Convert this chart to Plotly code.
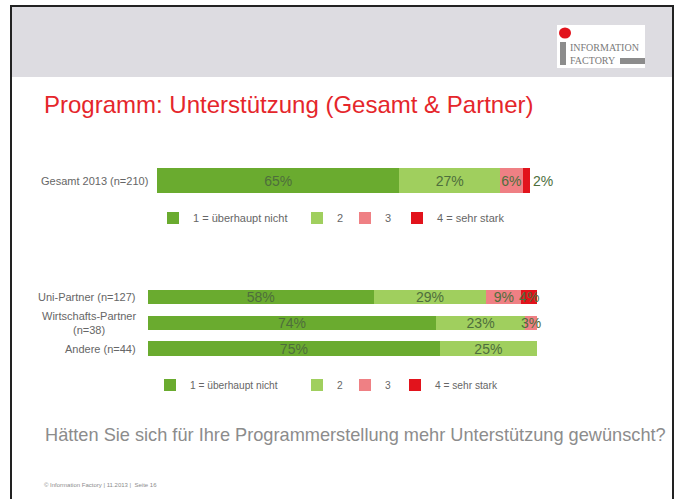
import plotly.graph_objects as go

W, H = 681, 499

def X(px):
    return px / W

def Y(py):
    return 1 - py / H

# ---------------- data ----------------
levels = ["1 = überhaupt nicht", "2", "3", "4 = sehr stark"]
colors = ["#6aab2f", "#a0cf5e", "#ef8084", "#e2131c"]

top_categories = ["Gesamt 2013 (n=210)"]
top_l1 = [65]
top_l2 = [27]
top_l3 = [6]
top_l4 = [2]

group_categories = ["Uni-Partner (n=127)", "Wirtschafts-Partner<br>(n=38)", "Andere (n=44)"]
group_l1 = [58, 74, 75]
group_l2 = [29, 23, 25]
group_l3 = [9, 3, 0]
group_l4 = [4, 0, 0]

title_text = "Programm: Unterstützung (Gesamt & Partner)"
question_text = "Hätten Sie sich für Ihre Programmerstellung mehr Unterstützung gewünscht?"
footer_text = "© Information Factory | 11.2013 |  Seite 16"

FONT = "Liberation Sans, Arial, sans-serif"
LABEL_COLOR = "#4e6e3c"

def pct(vals):
    return [f"{v}%" if v else "" for v in vals]

fig = go.Figure()

top_series = [top_l1, top_l2, top_l3, top_l4]
group_series = [group_l1, group_l2, group_l3, group_l4]

for i, vals in enumerate(top_series):
    fig.add_trace(go.Bar(
        x=vals, y=top_categories, orientation="h", name=levels[i],
        marker=dict(color=colors[i], line=dict(width=0)),
        width=1.0,
        text=pct(vals), textposition="outside" if i == 3 else "inside",
        insidetextanchor="middle",
        constraintext="none", textangle=0,
        textfont=dict(family=FONT, size=14, color=LABEL_COLOR),
        xaxis="x", yaxis="y", showlegend=True,
        legend="legend" if i == 0 else f"legend{i + 1}",
        hoverinfo="skip", cliponaxis=False,
    ))

for i, vals in enumerate(group_series):
    fig.add_trace(go.Bar(
        x=vals, y=group_categories, orientation="h", name=levels[i],
        marker=dict(color=colors[i], line=dict(width=0)),
        width=0.55,
        text=pct(vals), textposition="inside", insidetextanchor="middle",
        constraintext="none", textangle=0,
        textfont=dict(family=FONT, size=14, color=LABEL_COLOR),
        xaxis="x2", yaxis="y2", showlegend=True,
        legend=f"legend{i + 5}",
        hoverinfo="skip", cliponaxis=False,
    ))

hidden = dict(visible=False, showgrid=False, zeroline=False, fixedrange=True)

layout = dict(
    width=W, height=H,
    margin=dict(l=0, r=0, t=0, b=0),
    paper_bgcolor="white", plot_bgcolor="rgba(0,0,0,0)",
    barmode="stack", showlegend=True,
    font=dict(family=FONT, color="#666666"),
    xaxis=dict(domain=[X(157), X(530)], range=[0, 100], anchor="y", **hidden),
    yaxis=dict(domain=[Y(193), Y(168)], range=[-0.5, 0.5], anchor="x",
               type="category", **hidden),
    xaxis2=dict(domain=[X(148), X(537)], range=[0, 100], anchor="y2", **hidden),
    yaxis2=dict(domain=[Y(361.5), Y(284)], range=[2.5, -0.5], anchor="x2",
                type="category", categoryorder="array",
                categoryarray=group_categories, **hidden),
)

# legends (one item each, positioned like the original)
top_text_x = [193, 337, 385, 437]
low_text_x = [190, 337, 385, 435]
for i in range(4):
    key = "legend" if i == 0 else f"legend{i + 1}"
    layout[key] = dict(x=X(top_text_x[i] - 40), y=Y(218), xanchor="left", yanchor="middle",
                       orientation="h", bgcolor="rgba(0,0,0,0)", borderwidth=0, visible=True,
                       font=dict(family=FONT, size=11, color="#666666"), itemwidth=30)
    layout[f"legend{i + 5}"] = dict(x=X(low_text_x[i] - 40), y=Y(385), xanchor="left", yanchor="middle",
                                    orientation="h", bgcolor="rgba(0,0,0,0)", borderwidth=0, visible=True,
                                    font=dict(family=FONT, size=10.2, color="#666666"), itemwidth=30)

fig.update_layout(**layout)

shapes = [
    # header band
    dict(type="rect", xref="paper", yref="paper", x0=X(11), x1=X(672), y0=Y(77), y1=Y(7),
         fillcolor="#dddce1", line=dict(width=0), layer="below"),
    # frame
    dict(type="line", xref="paper", yref="paper", x0=X(10), x1=X(674), y0=Y(6), y1=Y(6),
         line=dict(color="#222222", width=2)),
    dict(type="line", xref="paper", yref="paper", x0=X(11), x1=X(11), y0=Y(5), y1=Y(499),
         line=dict(color="#222222", width=2)),
    dict(type="line", xref="paper", yref="paper", x0=X(673), x1=X(673), y0=Y(5), y1=Y(499),
         line=dict(color="#222222", width=2)),
    # logo
    dict(type="rect", xref="paper", yref="paper", x0=X(557), x1=X(645), y0=Y(68), y1=Y(25),
         fillcolor="white", line=dict(width=0)),
    dict(type="circle", xref="paper", yref="paper", x0=X(559), x1=X(571), y0=Y(38.5), y1=Y(27.5),
         fillcolor="#e2131c", line=dict(width=0)),
    dict(type="rect", xref="paper", yref="paper", x0=X(560), x1=X(566), y0=Y(65), y1=Y(42),
         fillcolor="#8c8c8c", line=dict(width=0)),
    dict(type="rect", xref="paper", yref="paper", x0=X(620), x1=X(645), y0=Y(64), y1=Y(58),
         fillcolor="#8c8c8c", line=dict(width=0)),
]
fig.update_layout(shapes=shapes)

annotations = [
    dict(text=title_text, xref="paper", yref="paper", x=X(42), y=Y(104), xanchor="left",
         yanchor="middle", showarrow=False, font=dict(family=FONT, size=24, color="#e5262b")),
    dict(text=question_text, xref="paper", yref="paper", x=X(43), y=Y(435), xanchor="left",
         yanchor="middle", showarrow=False, font=dict(family=FONT, size=18.2, color="#8c8c8c")),
    dict(text=footer_text, xref="paper", yref="paper", x=X(42), y=Y(485), xanchor="left",
         yanchor="middle", showarrow=False, font=dict(family=FONT, size=6, color="#8c8c8c")),
    dict(text="INFORMATION", xref="paper", yref="paper", x=X(568), y=Y(48), xanchor="left",
         yanchor="middle", showarrow=False,
         font=dict(family="Liberation Serif, serif", size=10, color="#7a7a7a")),
    dict(text="FACTORY", xref="paper", yref="paper", x=X(568), y=Y(60), xanchor="left",
         yanchor="middle", showarrow=False,
         font=dict(family="Liberation Serif, serif", size=10, color="#7a7a7a")),
]

# category labels
for cat in top_categories:
    annotations.append(dict(text=cat, xref="paper", yref="y", x=X(150), y=cat, xanchor="right",
                            yanchor="middle", align="right", showarrow=False,
                            font=dict(family=FONT, size=11, color="#666666")))
for cat in group_categories:
    annotations.append(dict(text=cat, xref="paper", yref="y2", x=X(138), y=cat, xanchor="right",
                            yanchor="middle", align="center", showarrow=False,
                            font=dict(family=FONT, size=11, color="#666666")))

fig.update_layout(annotations=annotations)

fig.write_html("out.html", config={"displayModeBar": False, "staticPlot": True},
               post_script="document.body.style.margin='0px';")
